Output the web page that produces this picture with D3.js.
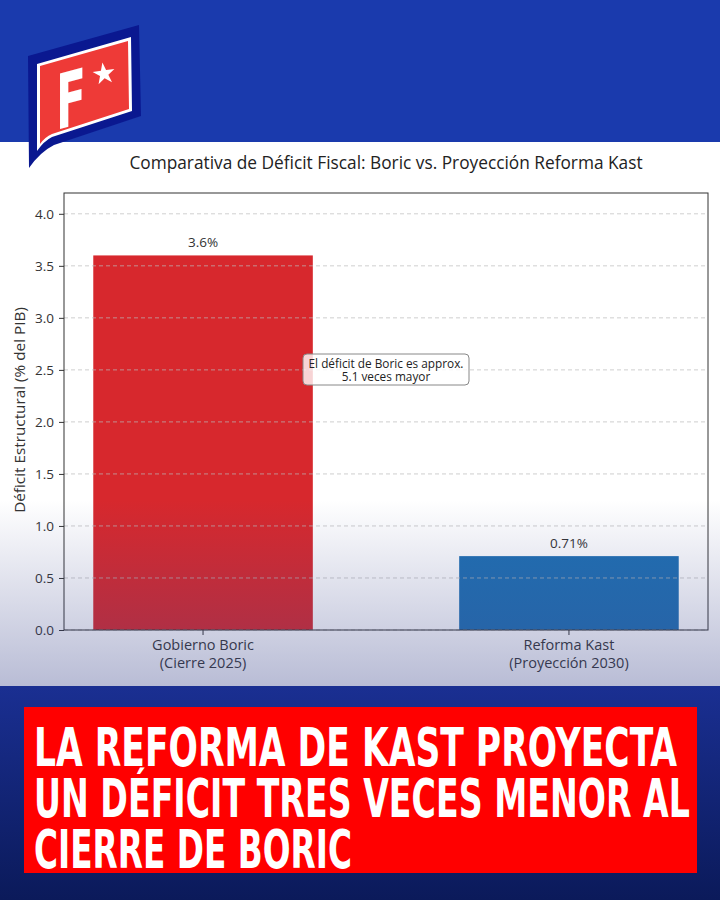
<!DOCTYPE html>
<html><head><meta charset="utf-8">
<script src="https://cdn.jsdelivr.net/npm/d3@7"></script>
<style>html,body{margin:0;padding:0;background:#fff;}svg{display:block;}</style>
</head><body>
<script>
const categories = [["Gobierno Boric","(Cierre 2025)"],["Reforma Kast","(Proyección 2030)"]];
const values = [3.6, 0.71];
const valueLabels = ["3.6%","0.71%"];
const barColors = ["#d7282d","#1f6fb2"];
const yTicks = [0,0.5,1.0,1.5,2.0,2.5,3.0,3.5,4.0];
const title = "Comparativa de Déficit Fiscal: Boric vs. Proyección Reforma Kast";
const yLabel = "Déficit Estructural (% del PIB)";
const annotation = ["El déficit de Boric es approx.","5.1 veces mayor"];
const headline = ["LA REFORMA DE KAST PROYECTA","UN DÉFICIT TRES VECES MENOR AL","CIERRE DE BORIC"];

const W=720,H=900;
const svg=d3.select("body").append("svg").attr("width",W).attr("height",H);
const defs=svg.append("defs");
const font="'Open Sans', 'Noto Sans', sans-serif";

// backgrounds
svg.append("rect").attr("x",0).attr("y",0).attr("width",W).attr("height",H).attr("fill","#fff");
svg.append("rect").attr("x",0).attr("y",0).attr("width",W).attr("height",142).attr("fill","#1a3aad");

// chart
const m={l:64,r:708,t:193,b:630};
const x=d3.scaleBand().domain(d3.range(categories.length)).range([m.l,m.r]).paddingInner(0.4).paddingOuter(0.08);
const y=d3.scaleLinear().domain([0,4.2]).range([m.b,m.t]);

svg.append("text").attr("x",386).attr("y",169).attr("text-anchor","middle")
  .attr("font-family",font).attr("font-size",17.3).attr("fill","#222").text(title);

const g=svg.append("g");
g.selectAll("rect.bar").data(values).enter().append("rect").attr("class","bar")
  .attr("x",(d,i)=>x(i)).attr("width",x.bandwidth())
  .attr("y",d=>y(d)).attr("height",d=>y(0)-y(d)).attr("fill",(d,i)=>barColors[i]);

// grid on top
g.selectAll("line.grid").data(yTicks).enter().append("line").attr("class","grid")
  .attr("x1",m.l).attr("x2",m.r).attr("y1",d=>y(d)).attr("y2",d=>y(d))
  .attr("stroke","#bbb").attr("stroke-opacity",0.7).attr("stroke-dasharray","4,3").attr("stroke-width",1);

// value labels
g.selectAll("text.val").data(values).enter().append("text").attr("class","val")
  .attr("x",(d,i)=>x(i)+x.bandwidth()/2).attr("y",d=>y(d)-8).attr("text-anchor","middle")
  .attr("font-family",font).attr("font-size",13.5).attr("fill","#333").text((d,i)=>valueLabels[i]);

// axes
const yAxis=d3.axisLeft(y).tickValues(yTicks).tickFormat(d3.format(".1f")).tickSize(5).tickPadding(5);
const ya=svg.append("g").attr("transform",`translate(${m.l},0)`).call(yAxis);
ya.select(".domain").remove();
ya.selectAll("text").attr("font-family",font).attr("font-size",13.5).attr("fill","#333");
ya.selectAll("line").attr("stroke","#333");

const xAxis=d3.axisBottom(x).tickFormat("").tickSize(5);
const xa=svg.append("g").attr("transform",`translate(0,${m.b})`).call(xAxis);
xa.select(".domain").remove();
xa.selectAll("line").attr("stroke","#333");
categories.forEach((c,i)=>{
  const t=svg.append("text").attr("x",x(i)+x.bandwidth()/2).attr("y",650).attr("text-anchor","middle")
    .attr("font-family",font).attr("font-size",14.5).attr("fill","#333");
  c.forEach((s,j)=>t.append("tspan").attr("x",x(i)+x.bandwidth()/2).attr("dy",j?18:0).text(s));
});

// frame
svg.append("rect").attr("x",m.l).attr("y",m.t).attr("width",m.r-m.l).attr("height",m.b-m.t)
  .attr("fill","none").attr("stroke","#333").attr("stroke-width",1);

svg.append("text").attr("transform",`translate(25,410) rotate(-90)`).attr("text-anchor","middle")
  .attr("font-family",font).attr("font-size",15.3).attr("fill","#333").text(yLabel);

// annotation
const ax=386, ay=369;
svg.append("rect").attr("x",ax-83).attr("y",ay-15).attr("width",166).attr("height",31).attr("rx",4)
  .attr("fill","#fff").attr("fill-opacity",0.8).attr("stroke","#888").attr("stroke-width",1);
const at=svg.append("text").attr("x",ax).attr("y",ay-1).attr("text-anchor","middle")
  .attr("font-family",font).attr("font-size",11.8).attr("fill","#222");
annotation.forEach((s,j)=>at.append("tspan").attr("x",ax).attr("dy",j?13:0).text(s));

// bottom overlay gradient
const og=defs.append("linearGradient").attr("id","ov").attr("x1",0).attr("x2",0).attr("y1",0).attr("y2",1);
og.append("stop").attr("offset","0%").attr("stop-color","#3c468c").attr("stop-opacity",0);
og.append("stop").attr("offset","100%").attr("stop-color","#3c468c").attr("stop-opacity",0.36);
svg.append("rect").attr("x",0).attr("y",500).attr("width",W).attr("height",186).attr("fill","url(#ov)");

// bottom band
const bg=defs.append("linearGradient").attr("id","bb").attr("x1",0).attr("x2",0).attr("y1",0).attr("y2",1);
bg.append("stop").attr("offset","0%").attr("stop-color","#1a2f92");
bg.append("stop").attr("offset","100%").attr("stop-color","#0b1a5a");
svg.append("rect").attr("x",0).attr("y",686).attr("width",W).attr("height",214).attr("fill","url(#bb)");
svg.append("rect").attr("x",24).attr("y",707).attr("width",673).attr("height",166).attr("fill","#ff0000");
const hlW=[643,656,318];
headline.forEach((s,j)=>svg.append("text").attr("x",34).attr("y",766+j*51)
  .attr("font-family","'DejaVu Sans Condensed','DejaVu Sans',sans-serif").attr("font-weight","bold")
  .attr("font-size",54).attr("fill","#fff").attr("textLength",hlW[j]).attr("lengthAdjust","spacingAndGlyphs").text(s));

// logo
const lg=svg.append("g");
lg.append("path").attr("d","M28,56 L139,25 L141,116 L54,145 Q40,152 29,168 Z").attr("fill","#0a1890");
lg.append("path").attr("d","M37,64 L131,37 L132,111 L52,137 Q44,141 37,151 Z").attr("fill","#fff");
lg.append("path").attr("d","M40,66 L128,41 L129,109 L52,134 Q45,137 40,144 Z").attr("fill","#ee3a37");
lg.append("text").attr("transform","translate(56,130) skewY(-15)").attr("font-family","'DejaVu Sans',sans-serif")
  .attr("font-weight","bold").attr("font-size",76).attr("fill","#fff").attr("textLength",30).attr("lengthAdjust","spacingAndGlyphs").text("F");
lg.append("path").attr("d",d3.symbol(d3.symbolStar,150)()).attr("transform","translate(104,74) rotate(-8)").attr("fill","#fff");
</script>
</body></html>
